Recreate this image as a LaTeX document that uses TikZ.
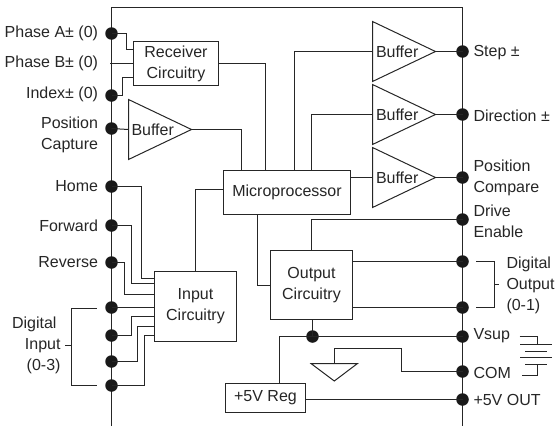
\documentclass[tikz,border=0pt]{standalone}
\usepackage{fontspec}
\setmainfont{Liberation Sans}
\usetikzlibrary{shapes.geometric,calc}
\definecolor{ink}{HTML}{262626}
\tikzset{
  wire/.style={draw=ink,line width=1pt,line cap=butt,line join=miter},
  pin/.style={circle,fill=black!90,draw=none,minimum size=12.5pt,inner sep=0pt,outer sep=0pt},
  block/.style={draw=ink,line width=1pt,fill=white,inner sep=0pt,outer sep=0pt,align=center,font=\fontsize{16}{21}\selectfont,text=ink},
  buffer/.style={draw=ink,line width=1pt,fill=white,isosceles triangle,isosceles triangle apex angle=87,isosceles triangle stretches,minimum width=60pt,minimum height=63pt,inner sep=0pt,outer sep=0pt,anchor=west},
  txt/.style={inner sep=0pt,outer sep=0pt,align=left,text=ink,font=\fontsize{16}{21}\selectfont},
  ltxt/.style={txt,align=right,anchor=east},
  rtxt/.style={txt,anchor=west},
}
\begin{document}
\begin{tikzpicture}[x=1pt,y=-1pt]
\useasboundingbox (0,0) rectangle (557,426);
% frame
\coordinate (fbl) at (111.5,426); \coordinate (ftl) at (111.5,7.5);
\coordinate (ftr) at (462.5,7.5); \coordinate (fbr) at (462.5,426);
\draw[wire] (fbl) -- (ftl) -- (ftr) -- (fbr);
% blocks
\node[block,minimum width=85pt,minimum height=44pt] (rx) at (176,63.5) {Receiver\\Circuitry};
\node[block,minimum width=127pt,minimum height=44pt] (mcu) at (287,192.5) {Microprocessor};
\node[block,minimum width=82pt,minimum height=70pt] (inp) at (195.5,306.5) {Input\\Circuitry};
\node[block,minimum width=82pt,minimum height=69pt] (outc) at (311.5,285) {Output\\Circuitry};
\node[block,minimum width=80pt,minimum height=29pt] (reg) at (265.5,398) {+5V Reg};
% buffers
\node[buffer] (b0) at (128.5,129.5) {};
\node[buffer] (b1) at (372.5,51.5) {};
\node[buffer] (b2) at (372.5,114.5) {};
\node[buffer] (b3) at (372.5,177.5) {};
\node[txt,anchor=west] (b0t) at (131.5,129.5) {Buffer};
\node[txt,anchor=west] (b1t) at (376,51.5) {Buffer};
\node[txt,anchor=west] (b2t) at (376,114.5) {Buffer};
\node[txt,anchor=west] (b3t) at (376,177.5) {Buffer};
% left pins
\node[pin] (pa) at (111.5,33.5) {};
\coordinate (pb) at (110,63.5);
\node[pin] (ix) at (111.5,95.5) {};
\node[pin] (pc) at (111.5,128.5) {};
\node[pin] (hm) at (111.5,186.5) {};
\node[pin] (fw) at (111.5,225.5) {};
\node[pin] (rv) at (111.5,262.5) {};
\node[pin] (d0) at (111.5,307.5) {};
\node[pin] (d1) at (111.5,335.5) {};
\node[pin] (d2) at (111.5,361.5) {};
\node[pin] (d3) at (111.5,385.5) {};
% right pins
\node[pin] (st) at (462.5,51.5) {};
\node[pin] (di) at (462.5,114.5) {};
\node[pin] (co) at (462.5,177.5) {};
\node[pin] (de) at (462.5,219.5) {};
\node[pin] (o0) at (462.5,261.5) {};
\node[pin] (o1) at (462.5,307.5) {};
\node[pin] (vs) at (462.5,336.5) {};
\node[pin] (cm) at (462.5,371.5) {};
\node[pin] (v5) at (462.5,399.5) {};
\node[pin] (vj) at (312.5,336.5) {};
% left labels
\node[ltxt] (lpa) at (98,33) {Phase A± (0)};
\node[ltxt] (lpb) at (98,63) {Phase B± (0)};
\node[ltxt] (lix) at (98,94) {Index± (0)};
\node[ltxt] (lpc) at (98,134.5) {Position\\Capture};
\node[ltxt] (lhm) at (98,186) {Home};
\node[ltxt] (lfw) at (98,225.5) {Forward};
\node[ltxt] (lrv) at (98,262) {Reverse};
\node[ltxt] (ldi) at (60.5,345.5) {Digital\hspace*{4pt}\\Input\hspace*{4pt}\\(0-3)};
% right labels
\node[rtxt] (lst) at (473.5,52.5) {Step ±};
\node[rtxt] (ldi2) at (473.5,115.5) {Direction ±};
\node[rtxt] (lco) at (473.5,177.5) {Position\\Compare};
\node[rtxt] (lde) at (473.5,221) {Drive\\Enable};
\node[rtxt] (ldo) at (506.5,285) {Digital\\Output\\(0-1)};
\node[rtxt] (lvs) at (473.5,336) {Vsup};
\node[rtxt] (lcm) at (473.5,373) {COM};
\node[rtxt] (lv5) at (473.5,400) {+5V OUT};
% wires left
\draw[wire] (pa.center) -- (126.5,33.5) -- (126.5,49.5) -- (rx.west |- 0,49.5);
\draw[wire] (pb) -- (rx.west |- pb);
\draw[wire] (ix.center) -- (122.5,95.5) -- (122.5,77.5) -- (rx.west |- 0,77.5);
\draw[wire] (pc.center) -- (b0.west);
\draw[wire] (b0.east) -| ($(mcu.north west)+(18,0)$);
\draw[wire] (rx.east) -| ($(mcu.north west)+(42,0)$);
\draw[wire] (hm.center) -- (141.5,186.5) -- (141.5,278.5) -- (inp.west |- 0,278.5);
\draw[wire] (fw.center) -- (131.5,225.5) -- (131.5,283.5) -- (inp.west |- 0,283.5);
\draw[wire] (rv.center) -- (124.5,262.5) -- (124.5,294.5) -- (inp.west |- 0,294.5);
\draw[wire] (d0.center) -- (inp.west |- d0);
\draw[wire] (d1.center) -- (131.5,335.5) -- (131.5,316.5) -- (inp.west |- 0,316.5);
\draw[wire] (d2.center) -- (137.5,361.5) -- (137.5,326.5) -- (inp.west |- 0,326.5);
\draw[wire] (d3.center) -- (144.5,385.5) -- (144.5,335.5) -- (inp.west |- 0,335.5);
\draw[wire] (mcu.west |- 0,189.5) -- (195.5,189.5) -- (inp.north);
% wires right
\draw[wire] (mcu.north west -| 294.5,0) -- (294.5,51.5) -- (b1.west);
\draw[wire] (mcu.north west -| 311.5,0) -- (311.5,114.5) -- (b2.west);
\draw[wire] (mcu.east |- b3.west) -- (b3.west);
\draw[wire] (b1.east) -- (st.center);
\draw[wire] (b2.east) -- (di.center);
\draw[wire] (b3.east) -- (co.center);
\draw[wire] (mcu.south west -| 257.5,0) -- (257.5,285.5) -- (outc.west |- 0,285.5);
\draw[wire] (de.center) -- (311.5,219.5) -- (outc.north);
\draw[wire] (outc.east |- o0) -- (o0.center);
\draw[wire] (outc.east |- o1) -- (o1.center);
\draw[wire] (outc.south -| vj) -- (vj.center);
\draw[wire] (reg.north -| 279.5,0) -- (279.5,336.5) -- (vs.center);
\draw[wire] (reg.east |- v5) -- (v5.center);
% ground
\coordinate (gl) at (311,363.5); \coordinate (gr) at (357.5,363.5); \coordinate (ga) at (334.3,381);
\draw[wire] (gl) -- (gr) -- (ga) -- cycle;
\draw[wire] (cm.center) -- (401.5,371.5) -- (401.5,348.5) -- (334.5,348.5) -- (334.5,363.5);
% brackets
\coordinate (bl0) at (96.5,308.5); \coordinate (bl1) at (96.5,385.5);
\draw[wire] (bl0) -- (71.5,308.5) -- (71.5,385.5) -- (bl1);
\draw[wire] (71.5,345.5) -- (65,345.5);
\coordinate (br0) at (476,261.5); \coordinate (br1) at (476,307.5);
\draw[wire] (br0) -- (494.5,261.5) -- (494.5,307.5) -- (br1);
\draw[wire] (494.5,284.5) -- (499,284.5);
% battery
\coordinate (bt0) at (519.5,336.5); \coordinate (bt1) at (522,375.5);
\draw[wire] (bt0) -- (537.5,336.5) -- (537.5,344.5);
\draw[wire] (520,344.5) -- (552,344.5);
\draw[wire] (525,351.5) -- (547,351.5);
\draw[wire] (520,357.5) -- (552,357.5);
\draw[wire] (525,364.5) -- (547,364.5);
\draw[wire] (537.5,364.5) -- (537.5,375.5) -- (bt1);
\end{tikzpicture}
\end{document}
